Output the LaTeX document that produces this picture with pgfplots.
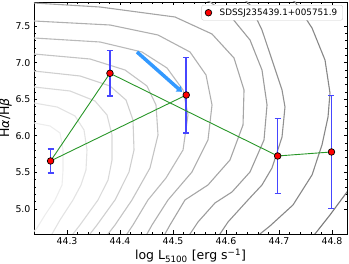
\documentclass[border=0pt]{standalone}
\usepackage{fontspec}
\setmainfont{DejaVu Sans}
\usepackage{pgfplots}
\pgfplotsset{compat=1.18}
\usetikzlibrary{arrows.meta}
\definecolor{errblue}{RGB}{70,70,255}
\definecolor{arrowblue}{RGB}{51,153,255}
\definecolor{lgreen}{RGB}{40,150,40}
\pgfplotstableread{
x y
44.269 5.656
44.381 6.854
44.525 6.557
44.6975 5.724
44.799 5.779
}\pts
\pgfplotstableread{
x y
44.525 6.557
44.269 5.656
44.381 6.854
44.6975 5.724
44.799 5.779
}\linetab
\begin{document}
\begin{tikzpicture}
\begin{axis}[
 scale only axis, width=313pt, height=232pt,
 xmin=44.2377, xmax=44.8283, ymin=4.658, ymax=7.828,
 xtick={44.3,44.4,44.5,44.6,44.7,44.8},
 xticklabels={44.3,44.4,44.5,44.6,44.7,44.8},
 ytick={5.0,5.5,6.0,6.5,7.0,7.5},
 yticklabels={5.0,5.5,6.0,6.5,7.0,7.5},
 minor x tick num=4, minor y tick num=4,
 tick align=inside, major tick length=3.5pt, minor tick length=2pt,
 every tick/.style={black, line width=0.6pt},
 axis line style={line width=0.8pt},
 tick label style={font=\fontsize{9.4}{11}\selectfont},
 label style={font=\fontsize{12.5}{15}\selectfont},
 xlabel={log L\textsubscript{5100} [erg s\textsuperscript{−1}]},
 ylabel={H{\itshape α}/H{\itshape β}},
 xlabel style={at={(rel axis cs:0.5,0)}, anchor=base, yshift=-26pt, inner sep=0pt},
 ylabel shift=-3pt,
 legend style={at={(0.987,0.987)}, anchor=north east, draw=black!20, rounded corners=2pt,
   fill=white, font=\fontsize{8.8}{10}\selectfont, inner xsep=3.5pt, inner ysep=1.5pt},
 legend cell align=left,
 unbounded coords=jump,
 ebar/.style={errblue, line width=1.6pt, forget plot},
]
\coordinate (SW) at (rel axis cs:0,0);
% contours
\addplot[black!7, line width=1.1pt, forget plot] coordinates {(44.2208,6.1885) (44.2377,6.1749) (44.2679,6.1339) (44.2868,6.0383) (44.2925,5.8060) (44.2925,5.5328) (44.2906,5.3279) (44.2774,5.1230) (44.2585,4.9180) (44.2434,4.7404) (44.2302,4.6311)};
\addplot[black!11, line width=1.1pt, forget plot] coordinates {(44.2208,6.4617) (44.2377,6.4481) (44.2811,6.3934) (44.3151,6.2705) (44.3321,6.0792) (44.3377,5.8060) (44.3358,5.5328) (44.3264,5.3279) (44.3113,5.1230) (44.2868,4.8497) (44.2717,4.6585) (44.2642,4.5765)};
\addplot[black!15, line width=1.1pt, forget plot] coordinates {(44.2208,6.6803) (44.2377,6.6667) (44.3057,6.6120) (44.3528,6.4754) (44.3755,6.2842) (44.3849,6.0109) (44.3849,5.6694) (44.3774,5.3962) (44.3585,5.1230) (44.3245,4.7814) (44.3113,4.6585) (44.3038,4.5765)};
\addplot[black!19, line width=1.1pt, forget plot] coordinates {(44.2208,6.8989) (44.2377,6.8852) (44.3245,6.8169) (44.3811,6.6803) (44.4113,6.4891) (44.4245,6.2158) (44.4264,5.8060) (44.4170,5.5055) (44.3906,5.1230) (44.3566,4.7814) (44.3434,4.6585) (44.3358,4.5765)};
\addplot[black!23, line width=1.1pt, forget plot] coordinates {(44.2208,7.1311) (44.2377,7.1175) (44.3434,7.0492) (44.4094,6.8989) (44.4509,6.6803) (44.4679,6.4208) (44.4717,6.0109) (44.4566,5.5601) (44.4226,5.1230) (44.3906,4.7814) (44.3774,4.6585) (44.3698,4.5765)};
\addplot[black!27, line width=1.1pt, forget plot] coordinates {(44.2208,7.3497) (44.2377,7.3361) (44.3623,7.2814) (44.4415,7.1448) (44.4887,6.9262) (44.5189,6.6257) (44.5283,6.2842) (44.5189,5.8060) (44.4868,5.4235) (44.4528,5.1230) (44.4245,4.7814) (44.4132,4.6585) (44.4057,4.5765)};
\addplot[black!31, line width=1.1pt, forget plot] coordinates {(44.2208,7.5820) (44.2377,7.5683) (44.3811,7.5137) (44.4717,7.3770) (44.5321,7.1448) (44.5623,6.8306) (44.5736,6.4208) (44.5660,5.9426) (44.5358,5.5055) (44.4906,5.1230) (44.4604,4.7814) (44.4509,4.6585) (44.4434,4.5765)};
\addplot[black!35, line width=1.1pt, forget plot] coordinates {(44.2208,7.8279) (44.2377,7.8142) (44.3623,7.7596) (44.5038,7.6230) (44.5736,7.3907) (44.6151,7.0628) (44.6340,6.6257) (44.6321,6.1475) (44.6075,5.6694) (44.5660,5.3279) (44.5226,5.1230) (44.4943,4.7814) (44.4849,4.6585) (44.4774,4.5765)};
\addplot[black!39, line width=1.1pt, forget plot] coordinates {(44.5415,7.9235) (44.5698,7.8279) (44.6113,7.6093) (44.6453,7.3087) (44.6679,6.8989) (44.6774,6.4208) (44.6717,5.9426) (44.6453,5.5055) (44.6113,5.2322) (44.5792,5.0820) (44.5472,4.8224) (44.5321,4.6585) (44.5245,4.5765)};
\addplot[black!43, line width=1.1pt, forget plot] coordinates {(44.6264,7.9235) (44.6453,7.7869) (44.6679,7.4454) (44.6868,7.0355) (44.7057,6.6257) (44.7113,6.3934) (44.7057,5.9836) (44.6868,5.5601) (44.6679,5.3279) (44.6415,5.1230) (44.6038,4.8224) (44.5887,4.6585) (44.5811,4.5765)};
\addplot[black!47, line width=1.1pt, forget plot] coordinates {(44.7113,7.9235) (44.7302,7.8279) (44.7623,7.4727) (44.7868,7.0355) (44.7962,6.5847) (44.7925,6.2568) (44.7811,5.8743) (44.7623,5.4645) (44.7264,5.0546) (44.6830,4.7678) (44.6642,4.6585) (44.6528,4.5765)};
\addplot[black!52, line width=1.1pt, forget plot] coordinates {(44.8528,5.4645) (44.8283,5.2322) (44.7962,4.9180) (44.7679,4.6585) (44.7585,4.5765)};
% arrow
\addplot[arrowblue, line width=3.5pt, -{Triangle[length=5pt,width=7.5pt]}, forget plot] coordinates {(44.432,7.145) (44.517,6.600)};
% error bars: value +- error, one plot per point
\addplot[ebar] coordinates {(44.2633,5.491) (44.2747,5.491) (nan,nan) (44.269,5.491) (44.269,5.821) (nan,nan) (44.2633,5.821) (44.2747,5.821)};
\addplot[ebar] coordinates {(44.3753,6.544) (44.3867,6.544) (nan,nan) (44.381,6.544) (44.381,7.164) (nan,nan) (44.3753,7.164) (44.3867,7.164)};
\addplot[ebar] coordinates {(44.5193,6.042) (44.5307,6.042) (nan,nan) (44.525,6.042) (44.525,7.072) (nan,nan) (44.5193,7.072) (44.5307,7.072)};
\addplot[ebar] coordinates {(44.6918,5.212) (44.7032,5.212) (nan,nan) (44.6975,5.212) (44.6975,6.236) (nan,nan) (44.6918,6.236) (44.7032,6.236)};
\addplot[ebar] coordinates {(44.7933,5.009) (44.8047,5.009) (nan,nan) (44.799,5.009) (44.799,6.549) (nan,nan) (44.7933,6.549) (44.8047,6.549)};
% green line
\addplot[lgreen, line width=0.9pt, forget plot] table[x=x, y=y] {\linetab};
% markers
\addplot[only marks, mark=*, mark size=3.3pt, mark options={fill=red, draw=black, line width=0.7pt}] table[x=x, y=y] {\pts};
\addlegendentry{\hspace{6pt}SDSSJ235439.1+005751.9}
\end{axis}
\path (SW) ++(-34pt,-30pt) coordinate (BL);
\path (SW) ++(315pt,234pt) coordinate (TR);
\pgfresetboundingbox
\useasboundingbox (BL) rectangle (TR);
\end{tikzpicture}
\end{document}
